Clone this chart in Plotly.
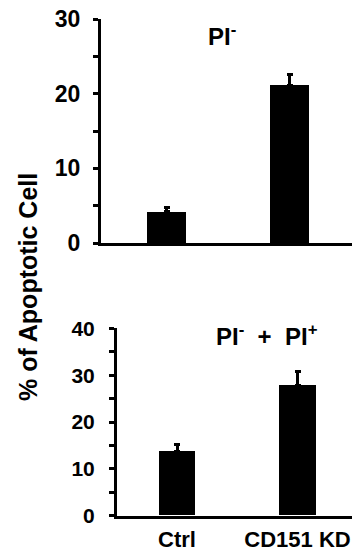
import plotly.graph_objects as go

categories = ["Ctrl", "CD151 KD"]
pi_neg_values = [4.2, 21.1]
pi_neg_errors = [0.5, 1.5]
pi_total_values = [13.8, 27.8]
pi_total_errors = [1.45, 3.0]
top_ticks = [0, 10, 20, 30]
bottom_ticks = [0, 10, 20, 30, 40]

W, H = 352, 549
FONT = "Liberation Sans, Arial, sans-serif"

def px_x(p):
    return p / W

def px_y(p):
    return 1 - p / H

fig = go.Figure()

xpos = list(range(len(categories)))

fig.add_trace(go.Bar(
    x=xpos, y=pi_neg_values, width=0.31,
    marker=dict(color="black", line=dict(width=0)),
    error_y=dict(type="data", array=pi_neg_errors, arrayminus=[0, 0], symmetric=False,
                 color="black", thickness=3, width=3),
    xaxis="x", yaxis="y", showlegend=False,
))
fig.add_trace(go.Bar(
    x=xpos, y=pi_total_values, width=0.30,
    marker=dict(color="black", line=dict(width=0)),
    error_y=dict(type="data", array=pi_total_errors, arrayminus=[0, 0], symmetric=False,
                 color="black", thickness=3, width=3),
    xaxis="x2", yaxis="y2", showlegend=False,
))

axis_common = dict(showgrid=False, zeroline=False, showline=True, linecolor="black",
                   linewidth=3, automargin=False)

fig.update_layout(
    width=W, height=H,
    margin=dict(l=0, r=0, t=0, b=0, autoexpand=False),
    paper_bgcolor="white", plot_bgcolor="white",
    font=dict(family=FONT, color="black"),
    bargap=0,
    xaxis=dict(domain=[px_x(101), 1], range=[-0.533, 1.508], anchor="y",
               showticklabels=False, ticks="", **axis_common),
    yaxis=dict(domain=[px_y(243), px_y(19)], range=[0, 30], anchor="x",
               tickvals=top_ticks, ticks="outside", ticklen=5, tickwidth=3,
               tickcolor="black",
               minor=dict(dtick=5, ticks="outside", ticklen=5, tickwidth=3, tickcolor="black"),
               tickfont=dict(size=23, family=FONT, weight="bold"),
               ticklabelstandoff=8, **axis_common),
    xaxis2=dict(domain=[px_x(117), 1], range=[-0.498, 1.452], anchor="y2",
                tickvals=xpos, ticktext=categories, ticks="",
                tickfont=dict(size=22, family=FONT, weight="bold"),
                ticklabelstandoff=2, **axis_common),
    yaxis2=dict(domain=[px_y(515.7), px_y(328.3)], range=[0, 40], anchor="x2",
                tickvals=bottom_ticks, ticks="outside", ticklen=5, tickwidth=3,
                tickcolor="black",
                minor=dict(dtick=5, ticks="outside", ticklen=5, tickwidth=3, tickcolor="black"),
                tickfont=dict(size=21, family=FONT, weight="bold"),
                ticklabelstandoff=10, **axis_common),
)

fig.add_annotation(text="<b>PI<sup>-</sup></b>", x=px_x(222), y=px_y(35),
                   xref="paper", yref="paper", xanchor="center", yanchor="middle",
                   showarrow=False, font=dict(size=24, family=FONT, color="black"))
fig.add_annotation(text="<b>PI<sup>-</sup>\u00a0 +\u00a0 PI<sup>+</sup></b>",
                   x=px_x(267), y=px_y(335),
                   xref="paper", yref="paper", xanchor="center", yanchor="middle",
                   showarrow=False, font=dict(size=24, family=FONT, color="black"))
fig.add_annotation(text="<b>% of Apoptotic Cell</b>", x=px_x(28), y=px_y(287),
                   xref="paper", yref="paper", xanchor="center", yanchor="middle",
                   showarrow=False, textangle=-90,
                   font=dict(size=25, family=FONT, color="black"))

fig.write_html("out.html", config={"displayModeBar": False},
               post_script="document.body.style.margin='0';document.body.style.overflow='hidden';")
